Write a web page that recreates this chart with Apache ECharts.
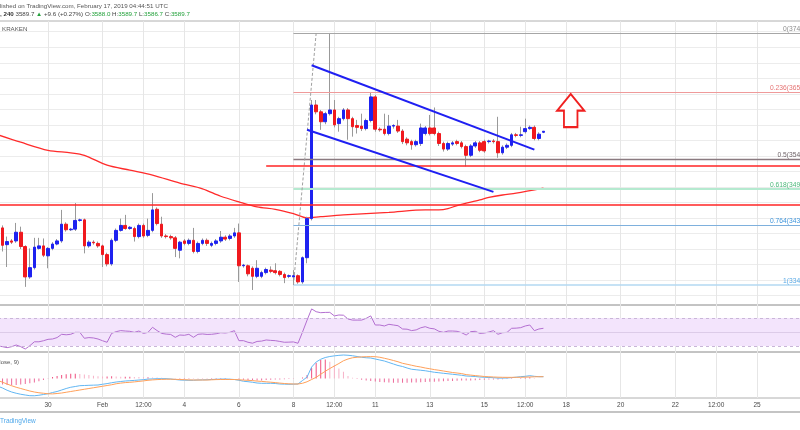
<!DOCTYPE html>
<html>
<head>
<meta charset="utf-8">
<title>BTCUSD 240 - Kraken</title>
<script src="https://cdn.jsdelivr.net/npm/echarts@6/dist/echarts.min.js"></script>
<style>
  html, body { margin: 0; padding: 0; background: #fff; }
  #chart { width: 800px; height: 430px; }
</style>
</head>
<body>
<div id="chart"></div>
<script>
const FONT = '"Liberation Sans", Arial, sans-serif';

// 4h bars, slot 0 is the half-cut bar on the left edge (Jan 28 04:00 UTC)
const firstBar = Date.UTC(2019, 0, 28, 4);
const slotCount = 182;

const tickTimes = ['01-30 00:00', '02-01 00:00', '02-02 12:00', '02-04 00:00', '02-06 00:00', '02-08 00:00',
  '02-09 12:00', '02-11 00:00', '02-13 00:00', '02-15 00:00', '02-16 12:00', '02-18 00:00', '02-20 00:00',
  '02-22 00:00', '02-23 12:00', '02-25 00:00'];
const tickTexts = ['30', 'Feb', '12:00', '4', '6', '8', '12:00', '11', '13', '15', '12:00', '18', '20', '22', '12:00', '25'];

// price grid lines (every 25)
const priceTicks = [3325, 3350, 3375, 3400, 3425, 3450, 3475, 3500, 3525, 3550, 3575, 3600, 3625, 3650, 3675, 3700, 3725, 3750];

// [open, close, low, high]
const candles = [
  [3463, 3435, 3432, 3466], [3434, 3406, 3396, 3438], [3407, 3412, 3371, 3420], [3413, 3411, 3408, 3416],
  [3413, 3427, 3410, 3442], [3427, 3404, 3400, 3436], [3404, 3355, 3339, 3406], [3355, 3370, 3352, 3401],
  [3370, 3403, 3367, 3418], [3401, 3405, 3399, 3418], [3405, 3390, 3387, 3417],
  [3389, 3401, 3369, 3403], [3401, 3408, 3398, 3411], [3408, 3413, 3406, 3416], [3413, 3440, 3410, 3463],
  [3440, 3431, 3428, 3443], [3431, 3432, 3429, 3434], [3432, 3446, 3429, 3474], [3446, 3447, 3444, 3449],
  [3447, 3405, 3393, 3449], [3405, 3411, 3402, 3414],
  [3411, 3410, 3407, 3414], [3409, 3405, 3402, 3412], [3405, 3391, 3371, 3407], [3391, 3376, 3372, 3394],
  [3376, 3414, 3373, 3417], [3414, 3430, 3411, 3433], [3430, 3438, 3428, 3449], [3438, 3433, 3431, 3455],
  [3433, 3435, 3431, 3437], [3433, 3420, 3412, 3436],
  [3420, 3438, 3417, 3441], [3438, 3421, 3418, 3441], [3422, 3430, 3419, 3449], [3430, 3463, 3427, 3490],
  [3464, 3441, 3438, 3467], [3440, 3421, 3418, 3452], [3421, 3420, 3417, 3424], [3420, 3418, 3415, 3423],
  [3418, 3401, 3387, 3421], [3398, 3411, 3385, 3413],
  [3413, 3409, 3406, 3416], [3409, 3414, 3406, 3417], [3414, 3396, 3393, 3434], [3396, 3409, 3393, 3412],
  [3409, 3414, 3406, 3417], [3414, 3409, 3405, 3417], [3406, 3409, 3403, 3412], [3409, 3413, 3406, 3416],
  [3413, 3419, 3410, 3429], [3419, 3416, 3413, 3422],
  [3417, 3421, 3414, 3424], [3421, 3426, 3418, 3434], [3426, 3373, 3347, 3441], [3373, 3374, 3370, 3376],
  [3373, 3360, 3356, 3375], [3369, 3356, 3334, 3372], [3356, 3369, 3353, 3382], [3356, 3362, 3353, 3365],
  [3362, 3367, 3359, 3370], [3366, 3364, 3361, 3372],
  [3365, 3362, 3359, 3377], [3364, 3359, 3356, 3366], [3359, 3354, 3345, 3362], [3356, 3357, 3353, 3359],
  [3355, 3357, 3342, 3366], [3357, 3347, 3344, 3359], [3347, 3386, 3344, 3388], [3386, 3449, 3377, 3452],
  [3449, 3632, 3446, 3640], [3632, 3621, 3617, 3640],
  [3621, 3605, 3592, 3624], [3605, 3618, 3601, 3621], [3618, 3624, 3615, 3748], [3624, 3600, 3596, 3640],
  [3602, 3610, 3589, 3613], [3610, 3624, 3607, 3627], [3624, 3610, 3576, 3627], [3610, 3597, 3581, 3613],
  [3599, 3596, 3586, 3608], [3598, 3594, 3590, 3618],
  [3594, 3607, 3591, 3610], [3607, 3645, 3604, 3653], [3645, 3593, 3589, 3648], [3593, 3592, 3589, 3596],
  [3593, 3586, 3583, 3618], [3586, 3598, 3583, 3616], [3598, 3599, 3594, 3601], [3598, 3590, 3587, 3608],
  [3590, 3573, 3569, 3593], [3577, 3571, 3567, 3580],
  [3573, 3568, 3560, 3576], [3568, 3573, 3565, 3576], [3570, 3595, 3566, 3602], [3586, 3595, 3583, 3598],
  [3595, 3586, 3583, 3616], [3595, 3586, 3583, 3628], [3586, 3570, 3566, 3589], [3570, 3561, 3557, 3573],
  [3561, 3570, 3558, 3573], [3569, 3571, 3566, 3574],
  [3573, 3570, 3567, 3576], [3571, 3565, 3562, 3574], [3565, 3551, 3533, 3568], [3551, 3566, 3548, 3569],
  [3566, 3571, 3563, 3574], [3571, 3559, 3556, 3574], [3573, 3558, 3555, 3576], [3573, 3574, 3570, 3576],
  [3574, 3573, 3570, 3577], [3573, 3555, 3547, 3613],
  [3555, 3564, 3552, 3567], [3564, 3567, 3561, 3570], [3567, 3584, 3564, 3587], [3584, 3583, 3580, 3587],
  [3583, 3584, 3580, 3597], [3589, 3594, 3586, 3610], [3594, 3596, 3592, 3599], [3596, 3578, 3575, 3599],
  [3578, 3585, 3575, 3588], [3588.0, 3589.7, 3586.7, 3589.7]
];

// moving average, read at some bars: [barIndex, value]
const maLine = [[0, 3584], [5, 3572], [11, 3559], [16, 3555], [19, 3551], [24, 3535], [29, 3527], [34, 3519],
  [40, 3506], [45, 3497], [49, 3485], [53, 3476], [57, 3468], [61, 3464], [65, 3457], [68, 3450], [71, 3452],
  [76, 3455], [86, 3459], [94, 3463], [97, 3463], [99, 3465], [101, 3470], [106, 3479], [108, 3483],
  [111, 3487], [114, 3490], [120, 3498]];

const rsi = [
  30, 29, 27.6, 29, 31.4, 29, 25.7, 30.4, 36, 36, 37.5,
  39.5, 40, 42, 46.7, 46, 46.7, 49.5, 49.5, 41, 42,
  41.5, 40, 37.5, 35.3, 48, 50.5, 52, 51.4, 51, 49.5,
  51.4, 48, 49.5, 56.7, 52, 48, 47, 46.5, 42.4, 45.7,
  45.3, 46.7, 42.4, 46.7, 47.2, 46.5, 46.7, 47.5, 49, 48.6,
  49.5, 51.9, 37.6, 37.6, 35.3, 34, 36.5, 37, 38.6, 38,
  37.6, 36.5, 35.3, 35.5, 35.8, 33.9, 50, 67, 83, 79,
  77.6, 78, 78.1, 73, 74.3, 74, 68.6, 67, 67, 67,
  69.5, 73, 60, 60, 58.6, 61, 60, 59, 54.3, 54,
  52, 53, 56, 57.6, 55.3, 54.5, 51, 49.5, 51.4, 51.4,
  51, 49, 45.7, 50.5, 51, 48, 48.5, 50, 51.9, 46.7,
  49, 49.5, 55.3, 55.5, 56.2, 58.6, 60, 51.9, 54.3, 55.3
];

const macd = [
  -15.5, -19, -23.5, -27, -29.5, -31.5, -33, -34.4, -34.5, -33.5, -32,
  -30.5, -28, -26, -23, -20, -17.5, -16, -14.4, -14, -13.6,
  -13.3, -13, -11.5, -10.2, -8.5, -7, -6, -5, -4.4, -3.8,
  -3, -2.3, -1.2, -0.8, -0.4, -0.4, -0.4, -1, -2, -3,
  -3.4, -3.6, -3.5, -3, -2.8, -2.5, -2, -1.5, -1.2, -1,
  -1.4, -2, -3.5, -5.5, -6.4, -7.5, -9, -9.6, -9.6, -9.6,
  -10, -11, -11.3, -11.6, -11.3, -11, -4, 3, 23, 33,
  38.5, 42, 44, 45.3, 46.3, 47, 46.5, 45.5, 44, 42.5,
  41.5, 41, 39, 37, 35, 32, 29, 26, 24, 21,
  18.5, 17.5, 16.5, 15.5, 14, 12.5, 11.5, 10.4, 9.5, 8.5,
  7.5, 6.5, 5, 4.5, 4, 3, 2.5, 2, 1.6, 0.8,
  0.8, 1, 1.8, 2.6, 3.6, 4.4, 5.6, 4.4, 3.6, 3.6
];

const signal = [
  -4, -7.5, -11, -14.5, -17.5, -20, -22.5, -25, -27, -28.5, -29.5,
  -30.5, -30.8, -30, -29, -27.5, -26, -24.5, -23, -21.5, -20,
  -18.5, -17, -15.5, -14, -12.5, -10.5, -9.2, -8.2, -7.6, -6.8,
  -5.8, -4.8, -3.6, -2.8, -2.2, -1.8, -1.5, -1.4, -1.7, -2,
  -2.3, -2.8, -3, -3, -3, -3, -2.6, -2.2, -2, -2,
  -2, -2, -2.5, -3.2, -3.6, -4.2, -5.2, -5.8, -6.6, -7.4,
  -8.2, -9.2, -10, -10.6, -11, -11, -9.5, -6.5, -2, 2.4,
  8.5, 14.5, 20, 25, 30, 35.5, 39, 41.5, 42.5, 43.2,
  43.6, 43.8, 43.6, 42.5, 40.5, 38.4, 36, 33.5, 30.4, 28.5,
  26.5, 24.5, 23, 21, 19.5, 17.8, 16.5, 15, 13.5, 12,
  11, 9.8, 7.8, 6.8, 5.8, 5, 4, 3.5, 3, 2.6,
  2.4, 2.3, 2.3, 2.4, 2.5, 2.7, 3, 3.4, 3.6, 3.6
];

const hist = [
  -11, -12, -13, -13.5, -13, -12, -11, -9.5, -8, -5.5, -3,
  -0.5, 3, 5, 7, 8.5, 9.5, 9.5, 9, 8, 7,
  5.5, 4.5, 4, 4, 4.5, 4, 3.5, 3.5, 3.5, 3.2,
  3, 2.5, 2.5, 2.2, 2, 1.5, 1, 0.5, -0.3, -1,
  -1.1, -0.8, -0.5, 0.3, 0.5, 0.6, 0.8, 1, 1, 1,
  0.7, 0.2, -1.5, -2.5, -3, -3.5, -4, -4, -3.2, -2.5,
  -1.8, -1.8, -1.4, -1, -0.3, 0, 2, 7, 21, 31,
  37, 38, 33.6, 27, 20, 13.6, 5, 1.6, -1, -2.5,
  -4, -5, -6, -7, -7.5, -8, -8.4, -8.5, -8.5, -8.4,
  -8.2, -8, -7.5, -7, -6.5, -6.5, -6.2, -5.5, -5, -4.8,
  -4.5, -4.2, -4, -3.8, -3.5, -3, -2.5, -2, -1.8, -1.8,
  -1.5, -1.2, -0.8, 0.2, 1, 1.6, 2.4, 1, 0.2, 0.1
];

// fibonacci retracement (low 3342 -> high 3748)
const fibLevels = [0, 0.236, 0.5, 0.618, 0.764, 1];
const fibPrices = [3748.0, 3652.2, 3545.0, 3497.1, 3437.8, 3342.0];
const fibColors = ['#a6a6a6', '#ef9a9a', '#8a7a80', '#b5ead0', '#7eb0dd', '#b3d9f2'];
const fibTextColors = ['#8e8e8e', '#e57373', '#6f6469', '#4cb87a', '#3f96dd', '#5aaae6'];
const fibWidths = [1, 1, 1.3, 2, 1, 1.5];
const fibTrend = [[65, 3342], [70, 3748]];

// drawn lines: [[barIndex, price], [barIndex, price]]
const channelLines = [[[69, 3696], [118, 3560]], [[68, 3592], [109, 3492]]];
const redLines = [[[0, 3471], [180, 3471]], [[59, 3534], [180, 3534]]];
const arrowAt = [126, 3623];
const lineEnd = 180;

const pad = n => String(n).padStart(2, '0');
const categories = [];
for (let i = 0; i < slotCount; i++) {
  const d = new Date(firstBar + i * 4 * 3600 * 1000);
  categories.push(pad(d.getUTCMonth() + 1) + '-' + pad(d.getUTCDate()) + ' ' + pad(d.getUTCHours()) + ':00');
}
const tickSet = new Set(tickTimes);
const onTick = (idx, value) => tickSet.has(value);

const bodies = candles.map(c => [c[0], c[1], Math.min(c[0], c[1]), Math.max(c[0], c[1])]);

const markLines = [];
fibLevels.forEach((lv, j) => {
  markLines.push([
    {
      coord: [fibTrend[0][0], fibPrices[j]],
      lineStyle: { color: fibColors[j], width: fibWidths[j], type: 'solid' },
      label: {
        show: true, position: 'insideEndTop', distance: [4.5, 0.5],
        formatter: lv + '(' + fibPrices[j].toFixed(1) + ')',
        color: fibTextColors[j], fontSize: 6.7, fontFamily: FONT
      }
    },
    { coord: [lineEnd, fibPrices[j]] }
  ]);
});
markLines.push([
  { coord: fibTrend[0], lineStyle: { color: '#a0a0a0', width: 1, type: [3, 2] } },
  { coord: fibTrend[1] }
]);
redLines.forEach(l => markLines.push([
  { coord: l[0], lineStyle: { color: '#ff2424', width: 1.5, type: 'solid' } },
  { coord: l[1] }
]));
channelLines.forEach(l => markLines.push([
  { coord: l[0], lineStyle: { color: '#1f1ff2', width: 2, type: 'solid' } },
  { coord: l[1] }
]));

const gridBase = { left: -2, right: -20.7, show: true, borderColor: '#b0b0b0', borderWidth: 1, outerBoundsMode: 'none' };

const chart = echarts.init(document.getElementById('chart'));
chart.setOption({
  animation: false,
  backgroundColor: '#ffffff',
  textStyle: { fontFamily: FONT },
  grid: [
    Object.assign({ top: 21, height: 284 }, gridBase),
    Object.assign({ top: 305, height: 47 }, gridBase),
    Object.assign({ top: 352, height: 46 }, gridBase)
  ],
  xAxis: [0, 1, 2].map(g => ({
    type: 'category',
    gridIndex: g,
    data: categories,
    boundaryGap: false,
    axisLine: { show: false },
    axisTick: { show: false },
    axisLabel: g === 2 ? {
      show: true, interval: onTick, margin: 4,
      formatter: v => tickTexts[tickTimes.indexOf(v)],
      fontSize: 6.5, color: '#4a4a4a', fontFamily: FONT
    } : { show: false },
    splitLine: { show: true, interval: onTick, lineStyle: { color: '#e6e6e6', width: 1 } }
  })),
  yAxis: [
    {
      type: 'value', gridIndex: 0, position: 'right', min: 3309.8, max: 3767.3,
      axisLine: { show: false }, axisLabel: { show: false },
      axisTick: { show: false, customValues: priceTicks },
      splitLine: { show: true, lineStyle: { color: '#ececec', width: 1 } }
    },
    {
      type: 'value', gridIndex: 1, position: 'right', min: 21.4, max: 88.6,
      axisLine: { show: false }, axisLabel: { show: false }, axisTick: { show: false }, splitLine: { show: false }
    },
    {
      type: 'value', gridIndex: 2, position: 'right', min: -39, max: 53,
      axisLine: { show: false }, axisLabel: { show: false }, axisTick: { show: false }, splitLine: { show: false }
    }
  ],
  series: [
    {
      name: 'MA',
      type: 'line',
      data: maLine,
      smooth: 0.3,
      showSymbol: false,
      silent: true,
      lineStyle: { color: '#ff2b2b', width: 1.3 },
      z: 2
    },
    {
      name: 'wicks',
      type: 'candlestick',
      data: candles,
      barWidth: 0.01,
      silent: true,
      itemStyle: { color: '#999999', color0: '#999999', borderColor: '#999999', borderColor0: '#999999', borderWidth: 1 },
      z: 3
    },
    {
      name: 'BTCUSD',
      type: 'candlestick',
      data: bodies,
      barWidth: 3.2,
      silent: true,
      itemStyle: { color: '#1e22f0', color0: '#f0191e', borderColor: '#1e22f0', borderColor0: '#f0191e', borderWidth: 1 },
      z: 4,
      markLine: { silent: true, symbol: 'none', animation: false, label: { show: false }, data: markLines },
      markPoint: {
        silent: true,
        symbol: 'path://M50,0 L100,50 L75,50 L75,100 L25,100 L25,50 L0,50 Z',
        symbolSize: [27, 33],
        symbolKeepAspect: false,
        itemStyle: { color: '#ffffff', borderColor: '#f02020', borderWidth: 2 },
        label: { show: false },
        data: [{ coord: arrowAt }]
      }
    },
    {
      name: 'RSI',
      type: 'line',
      xAxisIndex: 1, yAxisIndex: 1,
      data: rsi,
      showSymbol: false,
      silent: true,
      lineStyle: { color: '#b36fd0', width: 1 },
      markArea: { silent: true, itemStyle: { color: '#f3e4fc' }, data: [[{ yAxis: 70 }, { yAxis: 30 }]] },
      markLine: {
        silent: true, symbol: 'none', label: { show: false },
        data: [
          { yAxis: 70, lineStyle: { color: '#c9b6d8', type: [3, 3], width: 1 } },
          { yAxis: 30, lineStyle: { color: '#c9b6d8', type: [3, 3], width: 1 } },
          { yAxis: 50, lineStyle: { color: '#dccbe8', type: 'solid', width: 1 } }
        ]
      }
    },
    {
      name: 'Histogram',
      type: 'bar',
      xAxisIndex: 2, yAxisIndex: 2,
      data: hist,
      barWidth: 1,
      silent: true,
      itemStyle: {
        color: p => {
          if (p.value < 0) return '#ec6a9a';
          const prev = p.dataIndex > 0 ? hist[p.dataIndex - 1] : p.value;
          return p.value >= prev ? '#ef4f7f' : '#f7b2c8';
        }
      }
    },
    {
      name: 'MACD',
      type: 'line',
      xAxisIndex: 2, yAxisIndex: 2,
      data: macd,
      showSymbol: false,
      silent: true,
      lineStyle: { color: '#62b6f2', width: 1 }
    },
    {
      name: 'Signal',
      type: 'line',
      xAxisIndex: 2, yAxisIndex: 2,
      data: signal,
      showSymbol: false,
      silent: true,
      lineStyle: { color: '#ffa05a', width: 1 }
    }
  ],
  graphic: [
    {
      type: 'text', x: 0, y: 6, silent: true,
      style: { text: 'lished on TradingView.com, February 17, 2019 04:44:51 UTC', fill: '#555555', fontSize: 6.2, fontFamily: FONT, verticalAlign: 'middle' }
    },
    {
      type: 'text', x: 0, y: 14.5, silent: true,
      style: {
        text: '{b|, 240} 3589.7 {g|▲} +9.6 (+0.27%) O:{g|3588.0} H:{g|3589.7} L:{g|3586.7} C:{g|3589.7}',
        fill: '#444444', fontSize: 6.2, fontFamily: FONT, verticalAlign: 'middle',
        rich: {
          b: { fontWeight: 'bold', fill: '#333333', fontSize: 6.2, fontFamily: FONT },
          g: { fill: '#22a03a', fontSize: 6.2, fontFamily: FONT }
        }
      }
    },
    {
      type: 'text', x: 2, y: 29.5, silent: true,
      style: { text: 'KRAKEN', fill: '#5a5a5a', fontSize: 6.2, fontFamily: FONT, verticalAlign: 'middle' }
    },
    {
      type: 'text', x: 19, y: 362, silent: true,
      style: { text: 'MACD (12, 26, close, 9)', fill: '#555555', fontSize: 6, fontFamily: FONT, align: 'right', verticalAlign: 'middle' }
    },
    {
      type: 'line', silent: true,
      shape: { x1: 0, y1: 412, x2: 800, y2: 412 },
      style: { stroke: '#b0b0b0', lineWidth: 1.5 }
    },
    {
      type: 'text', x: 0, y: 421, silent: true,
      style: { text: 'TradingView', fill: '#4da7ea', fontSize: 6.5, fontFamily: FONT, verticalAlign: 'middle' }
    }
  ]
});
</script>
</body>
</html>
